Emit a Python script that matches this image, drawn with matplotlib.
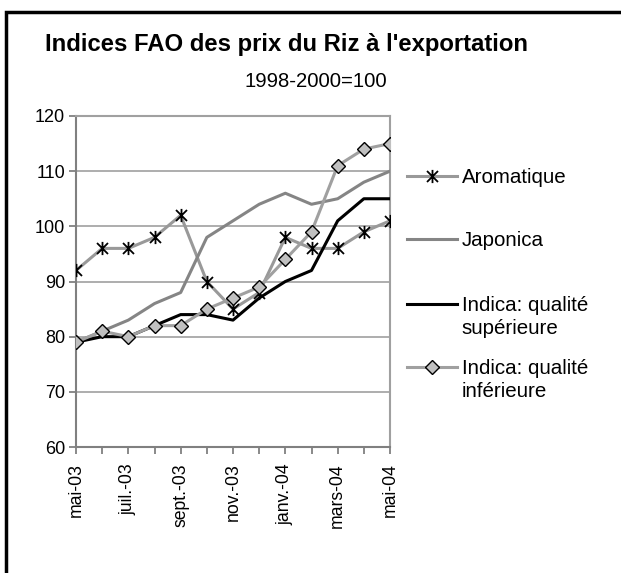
import matplotlib
matplotlib.use("Agg")
import matplotlib.pyplot as plt
from matplotlib.path import Path
from matplotlib.patches import Rectangle
from matplotlib.legend_handler import HandlerLine2D

plt.rcParams['font.family'] = ['Liberation Sans', 'DejaVu Sans']

months = ["mai-03", "juin-03", "juil.-03", "août-03", "sept.-03", "oct.-03", "nov.-03",
          "déc.-03", "janv.-04", "févr.-04", "mars-04", "avr.-04", "mai-04"]
aromatique = [92, 96, 96, 98, 102, 90, 85, 88, 98, 96, 96, 99, 101]
japonica = [79, 81, 83, 86, 88, 98, 101, 104, 106, 104, 105, 108, 110]
indica_sup = [79, 80, 80, 82, 84, 84, 83, 87, 90, 92, 101, 105, 105]
indica_inf = [79, 81, 80, 82, 82, 85, 87, 89, 94, 99, 111, 114, 115]
labels = ["Aromatique", "Japonica", "Indica: qualité\nsupérieure", "Indica: qualité\ninférieure"]
title = "Indices FAO des prix du Riz à l'exportation"
subtitle = "1998-2000=100"
yticks = [60, 70, 80, 90, 100, 110, 120]

W, H = 621, 573
fig = plt.figure(figsize=(W / 100, H / 100), dpi=100)
ax = fig.add_axes([76 / W, 1 - 447 / H, (390 - 76) / W, (447 - 116) / H])

star = Path([(-0.5, -0.5), (0.5, 0.5), (-0.5, 0.5), (0.5, -0.5), (0, -0.6), (0, 0.6)],
            [Path.MOVETO, Path.LINETO, Path.MOVETO, Path.LINETO, Path.MOVETO, Path.LINETO])

x = list(range(len(months)))
l1, = ax.plot(x, aromatique, color="#999999", lw=2.2, marker=star, ms=9.5, mec="black", mew=1.3,
              label=labels[0], zorder=3)
l2, = ax.plot(x, japonica, color="#858585", lw=2.2, label=labels[1], zorder=3)
l3, = ax.plot(x, indica_sup, color="black", lw=2.2, label=labels[2], zorder=4)
l4, = ax.plot(x, indica_inf, color="#a0a0a0", lw=2.2, marker="D", ms=7.3, mfc="#c0c0c0",
              mec="black", mew=1.0, label=labels[3], zorder=5)

ax.set_xlim(0, len(months) - 1)
ax.set_ylim(60, 120)
ax.set_yticks(yticks)
ax.set_yticklabels([str(v) for v in yticks], fontsize=13)
ax.set_xticks(x)
ax.set_xticklabels([m if i % 2 == 0 else "" for i, m in enumerate(months)],
                   rotation=90, fontsize=12.7)
ax.tick_params(axis="both", direction="out", length=5, width=1.3, color="#808080")
ax.tick_params(axis="y", pad=3)
ax.tick_params(axis="x", pad=6.6)
ax.grid(axis="y", color="#a0a0a0", lw=1.2)
ax.set_axisbelow(True)
for s in ax.spines.values():
    s.set_color("#808080")
    s.set_linewidth(1.5)
ax.spines["top"].set_color("#a0a0a0")
ax.spines["right"].set_color("#a0a0a0")

fig.text(45 / W, 1 - 51.5 / H, title, fontsize=17.2, fontweight="bold", va="baseline", ha="left")
fig.text(315.5 / W, 1 - 86.7 / H, subtitle, fontsize=14.6, va="baseline", ha="center")


class ShiftedHandler(HandlerLine2D):
    def __init__(self, yshift=0.0, **kw):
        super().__init__(**kw)
        self.yshift = yshift

    def create_artists(self, legend, orig_handle, xdescent, ydescent, width, height,
                       fontsize, trans):
        arts = super().create_artists(legend, orig_handle, xdescent, ydescent, width,
                                      height, fontsize, trans)
        for a in arts:
            a.set_ydata(a.get_ydata() + self.yshift)
        return arts


entries = [(l1, labels[0], 178, 0.0), (l2, labels[1], 241, 0.0),
           (l3, labels[2], 317, 9.4), (l4, labels[3], 380, 9.4)]
for h, lab, yc, sh in entries:
    lg = fig.legend([h], [lab], loc="center left", bbox_to_anchor=(407 / W, 1 - yc / H),
                    frameon=False, fontsize=14.8, handlelength=2.43, handletextpad=0.24,
                    borderaxespad=0, borderpad=0, handler_map={h: ShiftedHandler(yshift=sh)})
    for t in lg.get_texts():
        t.set_linespacing(1.27)

fig.patches.append(Rectangle((6 / W, -0.1), 1.2, 1 - 12 / H + 0.1, transform=fig.transFigure,
                             fill=False, edgecolor="black", lw=2.5))

fig.savefig("out.png", dpi=100)
